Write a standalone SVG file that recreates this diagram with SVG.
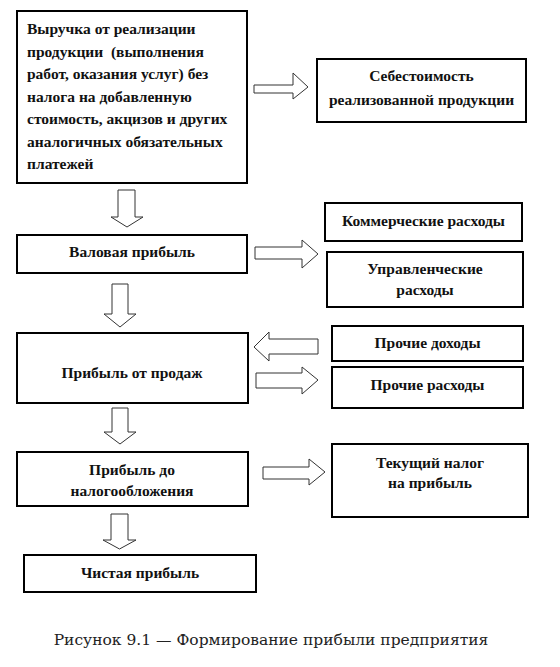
<svg xmlns="http://www.w3.org/2000/svg" width="560" height="667" viewBox="0 0 560 667">
<style>
.box{fill:#fff;stroke:#000;stroke-width:2}
.arr{fill:#fff;stroke:#333;stroke-width:1}
text.t{font-family:'Liberation Serif','Times New Roman',Times,serif;font-weight:700;font-size:15.5px;fill:#111}
text.c{text-anchor:middle}
.cap{font-family:'DejaVu Serif',serif;font-size:15.5px;fill:#222;text-anchor:middle}
</style>
<rect width="560" height="667" fill="#fff"/>
<g id="connectors">
<path class="arr" d="M118,190 H135 V217 H143 L127,227 L111,217 H118 Z"/>
<path class="arr" d="M112,284 H128 V314 H136 L120,327 L104,314 H112 Z"/>
<path class="arr" d="M112,408 H128 V432 H136 L120,444 L104,432 H112 Z"/>
<path class="arr" d="M111,514 H128 V540 H136 L119.5,549 L103,540 H111 Z"/>
<path class="arr" d="M254,85 H293 V73 L308,87 L293,99 V93 H254 Z"/>
<path class="arr" d="M255,247 H302 V240 L318,254 L302,268 V259 H255 Z"/>
<path class="arr" d="M318,339 H269 V332 L254,347 L269,361 V354 H318 Z"/>
<path class="arr" d="M256,373 H302 V367 L318,380 L302,394 V388 H256 Z"/>
<path class="arr" d="M263,467 H309 V459 L325,472 L309,485 V479 H263 Z"/>
</g>
<g id="n1">
<rect class="box" x="17" y="11" width="230" height="172"/>
<text class="t" x="27" y="34">Выручка от реализации</text>
<text class="t" x="27" y="57" xml:space="preserve">продукции  (выполнения</text>
<text class="t" x="27" y="79">работ, оказания услуг) без</text>
<text class="t" x="27" y="102">налога на добавленную</text>
<text class="t" x="27" y="124">стоимость, акцизов и других</text>
<text class="t" x="27" y="147">аналогичных обязательных</text>
<text class="t" x="27" y="169">платежей</text>
</g>
<g id="n2">
<rect class="box" x="317" y="59" width="209" height="63"/>
<text class="t c" x="421.5" y="81">Себестоимость</text>
<text class="t c" x="421.5" y="105">реализованной продукции</text>
</g>
<g id="n3">
<rect class="box" x="17" y="235" width="230" height="38"/>
<text class="t c" x="132" y="257">Валовая прибыль</text>
</g>
<g id="n4">
<rect class="box" x="325" y="203" width="197" height="38"/>
<text class="t c" x="423.5" y="226">Коммерческие расходы</text>
</g>
<g id="n5">
<rect class="box" x="327" y="252" width="196" height="55"/>
<text class="t c" x="425" y="274">Управленческие</text>
<text class="t c" x="425" y="295">расходы</text>
</g>
<g id="n6">
<rect class="box" x="17" y="333" width="231" height="70"/>
<text class="t c" x="132" y="378">Прибыль от продаж</text>
</g>
<g id="n7">
<rect class="box" x="332" y="326" width="191" height="35"/>
<text class="t c" x="427.5" y="348">Прочие доходы</text>
</g>
<g id="n8">
<rect class="box" x="332" y="367" width="191" height="41"/>
<text class="t c" x="427.5" y="390">Прочие расходы</text>
</g>
<g id="n9">
<rect class="box" x="17" y="452" width="231" height="54"/>
<text class="t c" x="132" y="475">Прибыль до</text>
<text class="t c" x="132" y="496">налогообложения</text>
</g>
<g id="n10">
<rect class="box" x="332" y="444" width="196" height="73"/>
<text class="t c" x="430" y="468">Текущий налог</text>
<text class="t c" x="430" y="488">на прибыль</text>
</g>
<g id="n11">
<rect class="box" x="24" y="555" width="232" height="37"/>
<text class="t c" x="140" y="578">Чистая прибыль</text>
</g>
<text class="cap" x="271" y="645">Рисунок 9.1 — Формирование прибыли предприятия</text>
</svg>
